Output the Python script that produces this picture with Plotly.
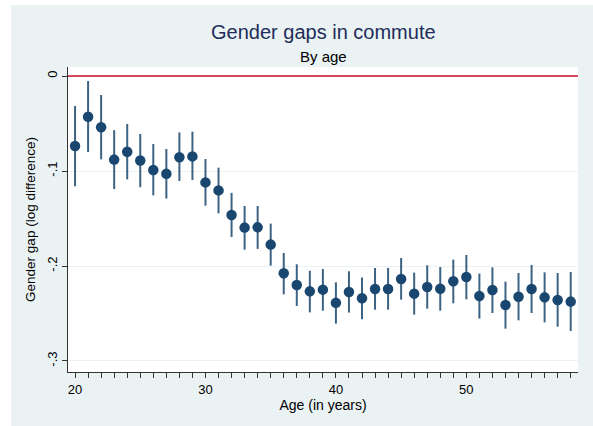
import plotly.graph_objects as go

ages = list(range(20, 59))
gap = [-0.0737, -0.0428, -0.0540, -0.0880, -0.0797, -0.0890, -0.0990, -0.1030, -0.0856, -0.0846,
       -0.1120, -0.1204, -0.1463, -0.1596, -0.1593, -0.1775, -0.2077, -0.2200, -0.2267, -0.2249,
       -0.2388, -0.2274, -0.2340, -0.2242, -0.2242, -0.2137, -0.2291, -0.2221, -0.2239, -0.2161,
       -0.2116, -0.2316, -0.2253, -0.2410, -0.2323, -0.2242, -0.2330, -0.2358, -0.2375]
ci_hi = [-0.0316, -0.0053, -0.0200, -0.0570, -0.0505, -0.0610, -0.0716, -0.0768, -0.0593, -0.0586,
         -0.0874, -0.0965, -0.1230, -0.1368, -0.1368, -0.1554, -0.1863, -0.1982, -0.2050, -0.2032,
         -0.2172, -0.2056, -0.2120, -0.2021, -0.2021, -0.1916, -0.2070, -0.1993, -0.2011, -0.1933,
         -0.1884, -0.2080, -0.2014, -0.2165, -0.2074, -0.1989, -0.2067, -0.2074, -0.2063]
ci_lo = [-0.1160, -0.0800, -0.0877, -0.1190, -0.1088, -0.1170, -0.1256, -0.1290, -0.1105, -0.1095,
         -0.1365, -0.1446, -0.1695, -0.1828, -0.1820, -0.1996, -0.2298, -0.2421, -0.2488, -0.2470,
         -0.2607, -0.2490, -0.2561, -0.2460, -0.2460, -0.2354, -0.2512, -0.2449, -0.2470, -0.2393,
         -0.2351, -0.2554, -0.2495, -0.2660, -0.2572, -0.2495, -0.2593, -0.2639, -0.2684]

y_ticks = [0, -0.1, -0.2, -0.3]
y_labels = ["0", "-.1", "-.2", "-.3"]
x_major = [20, 30, 40, 50]

err_plus = [h - g for h, g in zip(ci_hi, gap)]
err_minus = [g - l for g, l in zip(gap, ci_lo)]

FONT = "Arial, Liberation Sans, sans-serif"
NAVY = "#1A476F"

fig = go.Figure()
fig.add_trace(go.Scatter(
    x=ages, y=gap, mode="markers",
    marker=dict(color=NAVY, size=10.5),
    error_y=dict(type="data", symmetric=False, array=err_plus, arrayminus=err_minus,
                 color="rgba(26,71,111,0.85)", thickness=2, width=0),
    showlegend=False, hoverinfo="x+y",
))

fig.add_hline(y=0, line=dict(color="#C8102E", width=1.5))

W, H = 593, 426
L, R, T, B = 68, 15, 67, 54
pw, ph = W - L - R, H - T - B


def px_x(p):
    return (p - L) / pw


def px_y(p):
    return (H - B - p) / ph


fig.add_shape(type="rect", xref="paper", yref="paper",
              x0=px_x(11), x1=px_x(W + 5), y0=px_y(H + 5), y1=px_y(5),
              fillcolor="#EAF2F3", line=dict(width=0), layer="below")
fig.add_shape(type="rect", xref="paper", yref="paper",
              x0=0, x1=1, y0=0, y1=1,
              fillcolor="white", line=dict(width=0), layer="below")

fig.update_layout(
    width=W, height=H,
    margin=dict(l=L, r=R, t=T, b=B),
    paper_bgcolor="white", plot_bgcolor="white",
    font=dict(family=FONT, color="black", size=12),
    annotations=[
        dict(text="Gender gaps in commute", xref="paper", yref="paper",
             x=0.5, y=px_y(32), xanchor="center", yanchor="middle", showarrow=False,
             font=dict(size=20, color="#1E2D5A", family=FONT)),
        dict(text="By age", xref="paper", yref="paper",
             x=0.5, y=px_y(57), xanchor="center", yanchor="middle", showarrow=False,
             font=dict(size=15, color="black", family=FONT)),
    ],
)

fig.update_xaxes(
    range=[19.46, 58.56],
    tickmode="array", tickvals=ages,
    ticktext=[str(a) if a in x_major else "" for a in ages],
    ticks="outside", ticklen=5, tickwidth=1, tickcolor="#333333",
    showline=True, linecolor="#333333", linewidth=1,
    showgrid=False, zeroline=False,
    tickfont=dict(size=13, color="black"),
    title=dict(text="Age (in years)", font=dict(size=14, color="black"), standoff=3),
)
fig.update_yaxes(
    range=[-0.3116, 0.0095],
    tickmode="array", tickvals=y_ticks, ticktext=y_labels,
    tickangle=-90,
    ticks="outside", ticklen=5, tickwidth=1, tickcolor="#333333",
    showline=True, linecolor="#333333", linewidth=1,
    showgrid=True, gridcolor="#EAF2F3", gridwidth=1,
    zeroline=False,
    tickfont=dict(size=13, color="black"),
    title=dict(text="Gender gap (log difference)", font=dict(size=13.5, color="black"), standoff=6),
)

fig.write_html("out.html")
